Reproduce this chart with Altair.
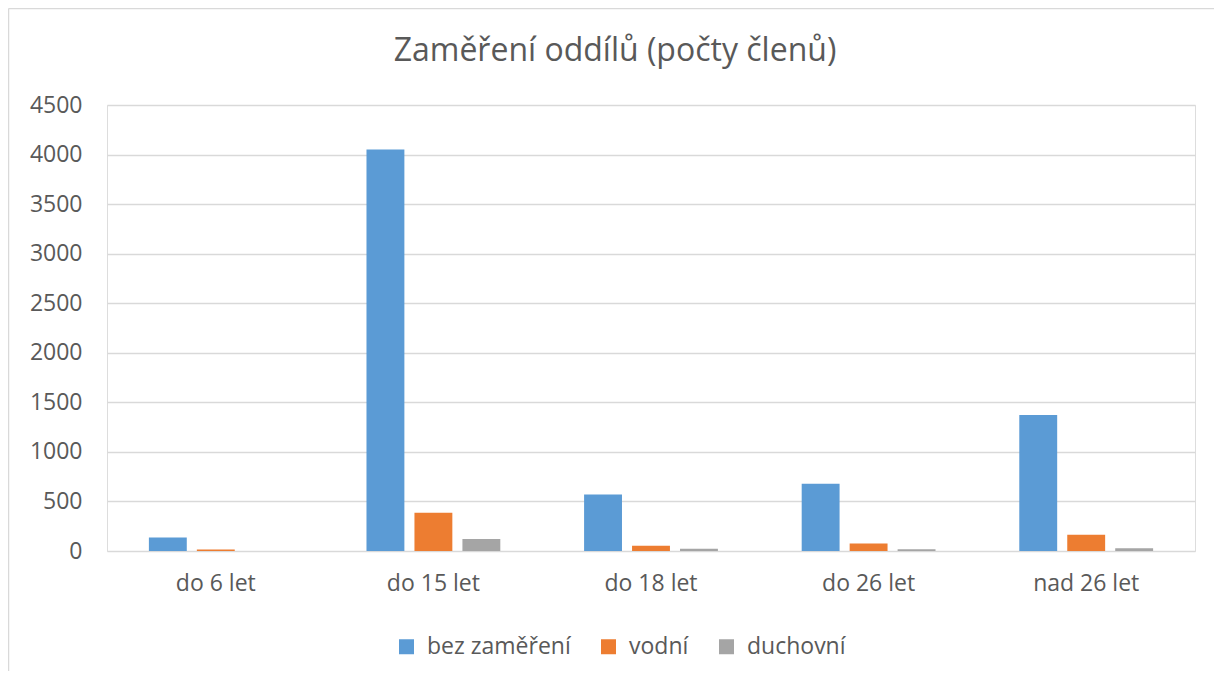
import altair as alt
import pandas as pd

categories = ["do 6 let", "do 15 let", "do 18 let", "do 26 let", "nad 26 let"]
series = ["bez zaměření", "vodní", "duchovní"]
bez_zamereni = [135, 4050, 570, 678, 1372]
vodni = [15, 387, 52, 75, 165]
duchovni = [0, 120, 22, 17, 28]
y_ticks = [0, 500, 1000, 1500, 2000, 2500, 3000, 3500, 4000, 4500]
colors = ["#5B9BD5", "#ED7D31", "#A5A5A5"]
title_text = "Zaměření oddílů (počty členů)"

rows = []
for s, vals in zip(series, [bez_zamereni, vodni, duchovni]):
    for c, v in zip(categories, vals):
        rows.append({"kategorie": c, "serie": s, "hodnota": v})
df = pd.DataFrame(rows)

FONT = "Open Sans"
TXT = "#595959"
FS = 23

bars = alt.Chart(df).mark_bar().encode(
    x=alt.X("kategorie:N", sort=categories, title=None,
            scale=alt.Scale(paddingInner=0.385, paddingOuter=0.1925),
            axis=alt.Axis(labelAngle=0, labelFontSize=FS, labelColor=TXT, labelFont=FONT,
                          labelPadding=21, ticks=False, domain=False)),
    xOffset=alt.XOffset("serie:N", sort=series,
                        scale=alt.Scale(paddingInner=0.21, paddingOuter=0)),
    y=alt.Y("hodnota:Q", title=None,
            scale=alt.Scale(domain=[0, 4500], nice=False),
            axis=alt.Axis(values=y_ticks, format="d", labelFontSize=FS, labelColor=TXT,
                          labelFont=FONT, labelPadding=25, ticks=False, domain=False,
                          gridColor="#d9d9d9", gridWidth=1.5)),
    color=alt.Color("serie:N", sort=series, title=None,
                    scale=alt.Scale(domain=series, range=colors),
                    legend=alt.Legend(orient="none", legendX=288, legendY=530,
                                      direction="horizontal", symbolType="square",
                                      symbolSize=225, symbolStrokeWidth=0,
                                      labelFontSize=FS, labelColor=TXT, labelFont=FONT,
                                      labelOffset=9, columnPadding=26)),
)

frame = alt.Data(values=[{"t": title_text}])
left_border = alt.Chart(frame).mark_rule(color="#d9d9d9", strokeWidth=1.5).encode(
    x=alt.value(-98.5), y=alt.value(-96.5), y2=alt.value(700))
top_border = alt.Chart(frame).mark_rule(color="#d9d9d9", strokeWidth=1.5).encode(
    x=alt.value(-98.5), x2=alt.value(1200), y=alt.value(-96.5))
title = alt.Chart(frame).mark_text(fontSize=32, font=FONT, color=TXT, align="center",
                                   baseline="middle").encode(
    text="t:N", x=alt.value(508), y=alt.value(-54))

chart = alt.layer(bars, left_border, top_border, title).properties(
    width=1088, height=446,
    padding={"left": 99, "top": 97, "right": 19, "bottom": 120},
    autosize=alt.AutoSizeParams(type="none"),
).configure_view(stroke=None).configure(background="white")

chart.save("out.html", embed_options={"renderer": "svg", "actions": False})
